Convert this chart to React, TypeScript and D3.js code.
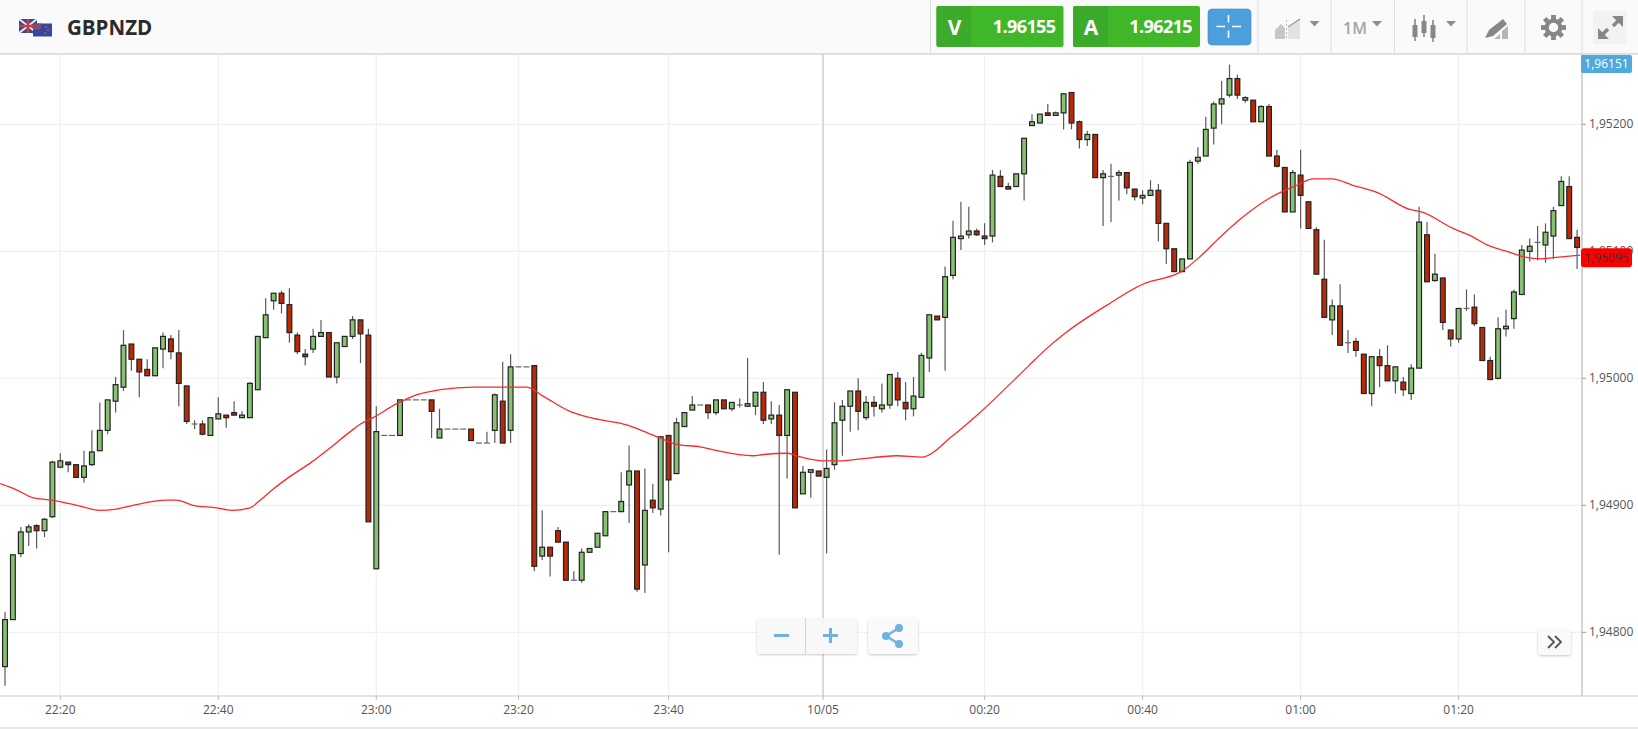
import React from 'react';
import * as d3 from 'd3';

// prices are kept as points (1/100000) away from 1.95000
const basePrice = 1.95;
const candleOpen = [
  -227,-190,-138,-121,-116,-120,-109,-70,-66,-68,
  -78,-68,-57,-41,-18,-7,27,15,7,2,
  23,31,20,-6,-36,-36,-45,-32,-29,-27,
  -31,-31,-9,32,61,67,58,34,19,23,
  33,36,1,25,33,46,34,-150,-45,-45,
  -45,-17,-17,-17,-17,-47,-40,-40,-40,-40,
  -51,-51,-41,-18,-41,9,9,10,-140,-133,
  -120,-129,-159,-159,-137,-133,-124,-105,-105,-84,
  -73,-147,-96,-103,-45,-75,-38,-25,-21,-21,
  -27,-17,-24,-21,-22,-22,-11,-32,-29,-45,
  -11,-91,-74,-73,-78,-68,-33,-22,-10,-31,
  -19,-24,-21,0,-19,-24,-15,16,49,48,
  81,110,113,116,112,112,159,151,151,161,
  199,201,209,207,209,225,202,188,192,158,
  159,160,162,149,142,144,148,122,102,84,
  94,171,175,197,216,223,236,219,219,202,
  214,175,166,131,160,139,117,78,46,57,
  28,29,19,-12,17,10,-2,-3,-12,8,
  113,77,79,38,31,55,56,40,14,0,
  39,47,66,100,107,105,112,136,151,111,
];
const candleHigh = [
  -184,-139,-117,-115,-115,-110,-65,-59,-66,-68,
  -57,-41,-19,-17,1,38,27,15,15,24,
  36,34,38,-6,-33,-33,-31,-15,-29,-18,
  -26,-3,33,63,67,69,71,36,23,39,
  46,36,28,33,49,46,39,-22,-45,-45,
  -17,-17,-17,-17,-17,-24,-40,-40,-40,-40,
  -51,-42,-12,13,19,9,9,10,-104,-133,
  -117,-129,-152,-134,-134,-122,-105,-105,-74,-53,
  -73,-71,-83,-46,-45,-31,-27,-14,-21,-21,
  -17,-17,-19,-16,16,-11,-3,-18,-21,-9,
  -11,-69,-72,-73,-56,-19,-17,-10,0,-14,
  -14,-4,3,5,-3,1,20,50,49,88,
  124,139,135,118,122,164,164,154,161,189,
  208,208,216,210,224,225,203,195,192,164,
  169,164,162,149,148,156,153,122,102,94,
  172,182,206,218,234,247,239,222,219,215,
  216,180,166,164,180,139,119,109,62,74,
  38,32,19,17,23,26,9,1,11,135,
  123,98,79,38,55,70,66,40,17,48,
  54,70,105,110,120,122,135,159,159,117,
];
const candleLow = [
  -242,-190,-141,-132,-134,-125,-110,-70,-74,-78,
  -82,-69,-57,-44,-27,-10,6,-15,2,2,
  8,15,-22,-36,-40,-45,-45,-32,-39,-29,
  -31,-31,-9,32,54,51,28,19,10,20,
  33,1,-4,25,31,12,-113,-150,-45,-45,
  -45,-17,-17,-17,-47,-47,-40,-40,-40,-49,
  -51,-51,-51,-51,-51,9,9,-152,-143,-156,
  -129,-159,-159,-161,-137,-133,-124,-105,-105,-114,
  -168,-169,-106,-108,-137,-75,-38,-25,-21,-32,
  -29,-24,-26,-23,-22,-29,-36,-36,-139,-79,
  -102,-91,-94,-77,-138,-72,-61,-42,-41,-33,
  -30,-27,-24,-22,-33,-30,-15,5,46,6,
  78,101,110,112,105,107,151,149,151,140,
  199,201,207,207,196,196,181,183,158,120,
  123,140,145,140,137,144,108,90,84,84,
  94,169,175,184,200,221,220,217,202,202,
  175,166,131,131,118,118,82,48,34,26,
  20,17,-12,-22,-7,-2,-12,-14,-17,8,
  76,76,38,25,28,53,41,14,-1,-1,
  33,39,66,92,93,91,94,136,110,86,
];
const candleClose = [
  -190,-139,-121,-117,-120,-111,-66,-65,-68,-78,
  -69,-58,-41,-17,-5,26,15,5,2,24,
  33,21,-4,-34,-36,-44,-31,-28,-31,-29,
  -29,-4,33,50,67,59,36,21,17,33,
  36,1,28,33,46,35,-113,-42,-45,-45,
  -17,-17,-17,-17,-26,-40,-40,-40,-40,-49,
  -51,-51,-13,-51,9,9,9,-148,-133,-140,
  -129,-159,-159,-137,-134,-122,-105,-105,-97,-73,
  -166,-104,-102,-46,-80,-35,-27,-21,-21,-27,
  -17,-24,-19,-21,-20,-11,-33,-29,-45,-9,
  -102,-74,-72,-77,-71,-35,-22,-10,-26,-19,
  -22,-21,3,-17,-24,-14,18,50,46,80,
  111,112,116,113,110,160,151,149,161,189,
  202,208,207,209,224,201,188,192,158,161,
  159,162,150,143,144,148,122,102,84,94,
  170,174,196,216,220,236,223,221,202,214,
  175,167,131,162,144,118,82,48,57,26,
  28,22,-12,17,10,-2,9,-9,8,123,
  76,82,44,31,55,55,43,14,-1,39,
  41,68,101,104,107,115,132,155,110,103,
];

const maPosition = [
  -0.6,1.5,3.5,5.9,9.1,12,14.1,16.2,20.5,21.7,23.8,26.8,28.7,31,32.3,34,35.7,38.8,41.1,43.7,45,46.6,49.6,52.1,55.1,
  59.3,61.8,66,68.1,71.5,74.1,78.9,82.5,85,88,90.1,94.7,96,99,100.2,103.6,105.1,112.9,116,120,123.4,129.6,131.6,134.3,
  139.6,144.8,146.2,148.9,151.3,153.8,156.3,160.1,163.5,165.6,168,170.6,173.8,177.8,179.3,183.3,185.9,187.6,190.1,192,194.3,196,199.4,
];
const maValue = [
  -83,-88,-94,-96,-100,-104,-103,-100,-96,-96,-100,-102,-104,-102,-96,-87,-79,-66,-55,-42,-36,-31,-20,-13,-9,
  -7,-7,-7,-14,-26,-31,-37,-46,-52,-54,-57,-61,-60,-59,-61,-65,-65,-61,-62,-45,-27,10,22,36,
  58,76,78,84,96,111,125,142,152,157,157,152,146,133,131,118,111,105,100,96,94,95,97,
];

const priceTicks = [1.948, 1.949, 1.95, 1.951, 1.952];
const timeTickPositions = [7, 27, 47, 65, 84, 103.55, 124, 144, 164, 184];
const timeTickLabels = ['22:20', '22:40', '23:00', '23:20', '23:40', '10/05', '00:20', '00:40', '01:00', '01:20'];
const symbolName = 'GBPNZD';
const sellPrice = '1.96155';
const buyPrice = '1.96215';
const topPriceLabel = '1,96151';
const lastPrice = 1.95095;
const lastPriceLabel = '1,95095';

const WIDTH = 1638;
const HEIGHT = 729;
const PLOT_TOP = 54;
const PLOT_BOTTOM = 696;
const PLOT_RIGHT = 1582;
const FONT = '"Open Sans", sans-serif';

const x = d3.scaleLinear().domain([0, 199]).range([5, 1577.1]);
const y = d3.scaleLinear().domain([1.948, 1.952]).range([632.3, 124.3]);
const py = (points: number) => y(basePrice + points / 100000);

const maLine = d3.line<number>()
  .x((_, i) => x(maPosition[i]))
  .y((d) => py(d))
  .curve(d3.curveMonotoneX);

const Arrow = ({ cx, cy }: { cx: number; cy: number }) => (
  <path d={`M${cx - 5},${cy - 3}H${cx + 5}L${cx},${cy + 2.5}Z`} fill="#8c8e90" />
);

const Gear = ({ cx, cy }: { cx: number; cy: number }) => (
  <g fill="#85878a">
    {d3.range(8).map((i) => (
      <rect key={i} x={cx - 2.4} y={cy - 12.5} width={4.8} height={6} transform={`rotate(${i * 45} ${cx} ${cy})`} />
    ))}
    <circle cx={cx} cy={cy} r={6.8} fill="none" stroke="#85878a" strokeWidth={4.2} />
  </g>
);

const PriceButton = ({ left, letter, price }: { left: number; letter: string; price: string }) => (
  <g fontFamily={FONT} fill="#fff" fontWeight={700}>
    <rect x={left} y={6} width={127} height={41} rx={2} fill="#3fb728" />
    <path d={`M${left + 2},6H${left + 35}V47H${left + 2}a2,2 0 0 1 -2,-2V8a2,2 0 0 1 2,-2Z`} fill="#3cab2b" />
    <text x={left + 18} y={35} fontSize={21} textAnchor="middle">{letter}</text>
    <text x={left + 119} y={33} fontSize={18} textAnchor="end" letterSpacing={-0.6}>{price}</text>
  </g>
);

const Toolbar = () => (
  <g>
    <rect x={0} y={0} width={WIDTH} height={PLOT_TOP} fill="#fafafa" />
    <line x1={0} x2={WIDTH} y1={54} y2={54} stroke="#c4c4c4" strokeWidth={1.2} />
    {[930.5, 1258, 1331, 1394.5, 1467, 1525, 1582].map((sx) => (
      <line key={sx} x1={sx} x2={sx} y1={0} y2={54} stroke="#dedede" />
    ))}

    {/* flags */}
    <rect x={19} y={19} width={18} height={14} fill="#3a4a8c" />
    <path d="M19,19L37,33M37,19L19,33" stroke="#e8e8f0" strokeWidth={2} />
    <path d="M28,19V33M19,26H37" stroke="#d8383c" strokeWidth={2.4} />
    <rect x={33} y={23.5} width={19} height={13} fill="#3348a0" />
    <rect x={33} y={23.5} width={8} height={6} fill="#8a4a70" />
    <circle cx={46} cy={27} r={0.9} fill="#e05050" />
    <circle cx={48} cy={30} r={0.9} fill="#e05050" />
    <circle cx={45} cy={33} r={0.9} fill="#e05050" />
    <text x={67} y={35} fontFamily={FONT} fontSize={20.5} fontWeight={700} fill="#2b2b2b">{symbolName}</text>

    <PriceButton left={936.5} letter="V" price={sellPrice} />
    <PriceButton left={1073} letter="A" price={buyPrice} />
    <rect x={1208} y={9} width={43} height={36} rx={4} fill="#4d9fdc" stroke="#3f8cc6" strokeWidth={0.6} />
    <path d="M1216.5,26.5H1225M1232,26.5H1241M1228.5,15V22.5M1228.5,30.5V38" stroke="#fff" strokeWidth={1.6} />

    {/* chart type */}
    <path d="M1275,39V30L1281,24L1285,28V39Z" fill="#c4c6c8" />
    <path d="M1288,39V27L1294,24L1300,19V39Z" fill="#e2e3e4" />
    <path d="M1288,27L1294,23L1300,19" fill="none" stroke="#9a9c9e" strokeWidth={1.5} />
    <line x1={1286.5} x2={1286.5} y1={20} y2={40} stroke="#b4b6b8" strokeDasharray="2 2" />
    <Arrow cx={1314.5} cy={24} />
    <text x={1343} y={34} fontFamily={FONT} fontSize={16} fontWeight={600} fill="#a2a4a6">1M</text>
    <Arrow cx={1377} cy={24} />

    {/* candle type */}
    <g fill="#85878a" stroke="#85878a">
      <path d="M1415,19V41M1424,15V37M1433,20V42" strokeWidth={1.6} />
      <rect x={1412.5} y={25} width={5} height={12} strokeWidth={0} />
      <rect x={1421.5} y={21} width={5} height={12} strokeWidth={0} />
      <rect x={1430.5} y={25} width={5} height={13} strokeWidth={0} />
    </g>
    <Arrow cx={1451} cy={24} />

    {/* drawing tools */}
    <path d="M1485,38L1489,30L1503,19L1507,24L1493,36Z" fill="#85878a" />
    <path d="M1494,39L1500,34V39ZM1502,39V31L1508,26V39Z" fill="#b4b6b8" />

    <Gear cx={1553.5} cy={27.5} />

    <rect x={1593} y={11} width={34} height={33} fill="#f2f2f2" />
    <path d="M1600,37L1608,29M1621,18L1613,26" stroke="#85878a" strokeWidth={3.6} />
    <path d="M1598,28V39H1609ZM1623,27V16H1612Z" fill="#85878a" />
  </g>
);

const ZoomControls = () => (
  <g>
    <defs>
      <filter id="soft" x="-10%" y="-20%" width="120%" height="150%">
        <feDropShadow dx="0" dy="1" stdDeviation="1" floodColor="#000" floodOpacity="0.22" />
      </filter>
    </defs>
    <rect x={757} y={618} width={100} height={36} rx={3} fill="#fafafa" fillOpacity={0.92} filter="url(#soft)" />
    <line x1={805.5} x2={805.5} y1={618} y2={654} stroke="#d4d4d4" />
    <path d="M774,635.5H789" stroke="#6db2e0" strokeWidth={3} />
    <path d="M823,635.5H838M830.5,628V643" stroke="#6db2e0" strokeWidth={3} />
    <rect x={868} y={618} width={50} height={36} rx={3} fill="#fafafa" filter="url(#soft)" />
    <path d="M899,628L886,636L899,644" fill="none" stroke="#6db2e0" strokeWidth={2.4} />
    <circle cx={886} cy={636} r={4} fill="#6db2e0" />
    <circle cx={899} cy={628} r={4} fill="#6db2e0" />
    <circle cx={899} cy={644} r={4} fill="#6db2e0" />

    <rect x={1538} y={629} width={33} height={26} rx={3} fill="#fafafa" filter="url(#soft)" />
    <path d="M1548,636L1554,642L1548,648M1555,636L1561,642L1555,648" fill="none" stroke="#555" strokeWidth={1.8} />
  </g>
);

export default function App() {
  return (
    <svg
      width={WIDTH}
      height={HEIGHT}
      viewBox={`0 0 ${WIDTH} ${HEIGHT}`}
      style={{ position: 'absolute', left: 0, top: 0, display: 'block', background: '#fff' }}
    >
      <defs>
        <clipPath id="plot">
          <rect x={0} y={PLOT_TOP} width={PLOT_RIGHT} height={PLOT_BOTTOM - PLOT_TOP} />
        </clipPath>
      </defs>

      {/* grid */}
      {priceTicks.map((t) => (
        <line key={t} x1={0} x2={PLOT_RIGHT} y1={y(t)} y2={y(t)} stroke="#f0f0f0" strokeWidth={1.2} />
      ))}
      {timeTickPositions.map((p) => (
        <line key={p} x1={x(p)} x2={x(p)} y1={PLOT_TOP} y2={PLOT_BOTTOM} stroke="#f0f0f0" strokeWidth={1.2} />
      ))}
      <line x1={x(103.55)} x2={x(103.55)} y1={PLOT_TOP} y2={PLOT_BOTTOM} stroke="#c8c8c8" strokeWidth={1.2} />

      {/* candles */}
      <g clipPath="url(#plot)">
        {candleOpen.map((open, i) => {
          const close = candleClose[i];
          const cx = x(i);
          const top = py(Math.max(open, close));
          const bottom = py(Math.min(open, close));
          return (
            <g key={i}>
              <line x1={cx} x2={cx} y1={py(candleHigh[i])} y2={py(candleLow[i])} stroke="#5a5a5a" strokeWidth={1.2} />
              {open === close ? (
                <line x1={cx - 3} x2={cx + 3} y1={top} y2={top} stroke="#666" strokeWidth={1.2} />
              ) : (
                <rect
                  x={cx - 2.4}
                  y={top}
                  width={4.8}
                  height={bottom - top}
                  fill={close > open ? '#86c272' : '#b82a04'}
                  stroke="#222"
                  strokeWidth={1.2}
                />
              )}
            </g>
          );
        })}
        <path d={maLine(maValue) || ''} fill="none" stroke="#fb2a2a" strokeWidth={1.3} />
      </g>

      <Toolbar />
      <ZoomControls />

      {/* axes */}
      <line x1={PLOT_RIGHT} x2={PLOT_RIGHT} y1={PLOT_TOP} y2={PLOT_BOTTOM} stroke="#b8b8b8" strokeWidth={1.2} />
      <line x1={0} x2={WIDTH} y1={PLOT_BOTTOM} y2={PLOT_BOTTOM} stroke="#c8c8c8" strokeWidth={1.2} />
      <line x1={0} x2={WIDTH} y1={728} y2={728} stroke="#d0d0d0" />
      {priceTicks.map((t) => (
        <g key={t}>
          <line x1={PLOT_RIGHT} x2={PLOT_RIGHT + 4} y1={y(t)} y2={y(t)} stroke="#999" />
          <text x={1589} y={y(t) + 4} fontFamily={FONT} fontSize={12} fill="#555">
            {d3.format('.5f')(t).replace('.', ',')}
          </text>
        </g>
      ))}
      {timeTickPositions.map((p, i) => (
        <g key={p}>
          <line x1={x(p)} x2={x(p)} y1={PLOT_BOTTOM} y2={PLOT_BOTTOM + 4} stroke="#bbb" />
          <text x={x(p)} y={714} textAnchor="middle" fontFamily={FONT} fontSize={12} fill="#555">
            {timeTickLabels[i]}
          </text>
        </g>
      ))}

      {/* price labels */}
      <rect x={1581} y={55} width={51} height={18} rx={2} fill="#4ea9dc" />
      <text x={1606.5} y={68} textAnchor="middle" fontFamily={FONT} fontSize={12} fill="#fff">{topPriceLabel}</text>
      <rect x={1581} y={y(lastPrice) - 9.5} width={51} height={19} rx={3} fill="#fb0000" />
      <text x={1606.5} y={y(lastPrice) + 4} textAnchor="middle" fontFamily={FONT} fontSize={12} fill="#333">{lastPriceLabel}</text>
    </svg>
  );
}
